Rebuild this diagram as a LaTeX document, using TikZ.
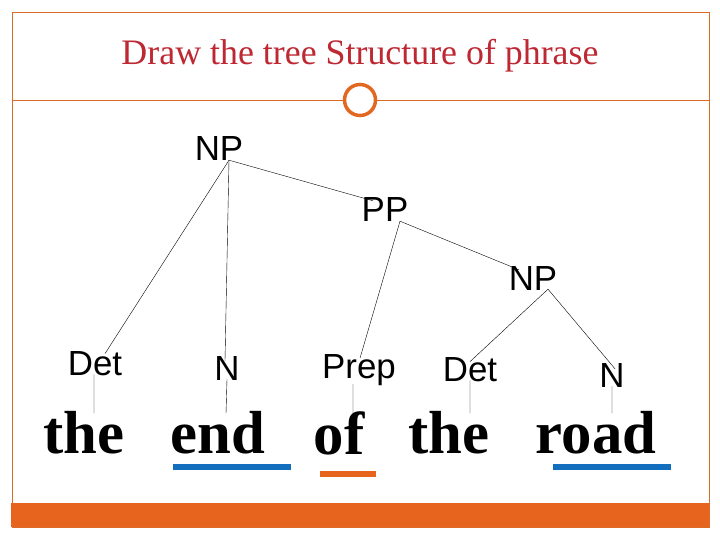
\documentclass[tikz,border=0pt]{standalone}
\usepackage{fontspec}
\setmainfont{Liberation Serif}
\setsansfont{Liberation Sans}
\definecolor{frameorange}{RGB}{230,100,30}
\definecolor{titlered}{RGB}{190,40,50}
\definecolor{lineblue}{RGB}{20,110,190}
\tikzset{
  cat/.style={font=\sffamily\fontsize{35}{35}\selectfont,inner sep=1pt},
  word/.style={font=\bfseries\fontsize{61}{61}\selectfont,inner sep=0pt},
  branch/.style={draw=black,line width=0.4pt}
}
\begin{document}
\begin{tikzpicture}[x=1bp,y=-1bp]
    \useasboundingbox (0,0) rectangle (720,540);
    % frame
    \draw[draw=frameorange!70!brown,line width=0.6pt] (12,12) rectangle (709,527);
    \fill[frameorange] (11,503) rectangle (709,527);
    \draw[draw=frameorange!70!brown,line width=0.6pt] (12,100) -- (343,100);
    \draw[draw=frameorange!70!brown,line width=0.6pt] (377,100) -- (709,100);
    \draw[draw=frameorange!90!brown,line width=3.5pt] (360,100) circle (15.5);
    \node[text=titlered,font=\fontsize{36}{36}\selectfont] (title) at (360,56) {Draw the tree Structure of phrase};
    % categories
    \node[cat] (np) at (219,149) {NP};
    \node[cat] (pp) at (385,210) {PP};
    \node[cat] (np2) at (533,279) {NP};
    \node[cat] (det) at (95,364) {Det};
    \node[cat] (n) at (227,369) {N};
    \node[cat] (prep) at (359,370) {Prep};
    \node[cat] (det2) at (470,370) {Det};
    \node[cat] (n2) at (612,376) {N};
    % words
    \node[word] (w1) at (84,433) {the};
    \node[word] (w2) at (218,433) {end};
    \node[word] (w3) at (339,433) {of};
    \node[word] (w4) at (449,433) {the};
    \node[word] (w5) at (596,433) {road};
    % branches
    \draw[branch] ([xshift=10bp,yshift=2bp]np.south) -- ([xshift=10bp,yshift=-3bp]det.north);
    \draw[branch] ([xshift=10bp,yshift=2bp]np.south) -- ([xshift=-2bp,yshift=-5bp]n.north);
    \draw[branch] ([xshift=10bp,yshift=2bp]np.south) -- ([xshift=-12bp,yshift=-4bp]pp.north);
    \draw[branch] ([xshift=15bp,yshift=2bp]pp.south) -- ([xshift=1bp,yshift=-5bp]prep.north);
    \draw[branch] ([xshift=15bp,yshift=2bp]pp.south) -- ([xshift=-14bp,yshift=-4bp]np2.north);
    \draw[branch] ([xshift=15bp,yshift=3bp]np2.south) -- ([yshift=-5bp]det2.north);
    \draw[branch] ([xshift=15bp,yshift=3bp]np2.south) -- ([xshift=3bp,yshift=-6bp]n2.north);
    \draw[branch] ([xshift=-1bp,yshift=3bp]det.south) -- ([xshift=10bp,yshift=-2bp]w1.north);
    \draw[branch] ([yshift=3bp]n.south) -- ([xshift=8bp,yshift=-2bp]w2.north);
    \draw[branch] ([xshift=-6bp,yshift=3bp]prep.south) -- ([xshift=14bp,yshift=-2bp]w3.north);
    \draw[branch] ([yshift=3bp]det2.south) -- ([xshift=21bp,yshift=-2bp]w4.north);
    \draw[branch] ([yshift=3bp]n2.south) -- ([xshift=16bp,yshift=-2bp]w5.north);
    % underlines
    \fill[lineblue] (173,464) rectangle (291,470);
    \fill[frameorange] (320,471) rectangle (376,477);
    \fill[lineblue] (553,464) rectangle (671,470);
\end{tikzpicture}
\end{document}
